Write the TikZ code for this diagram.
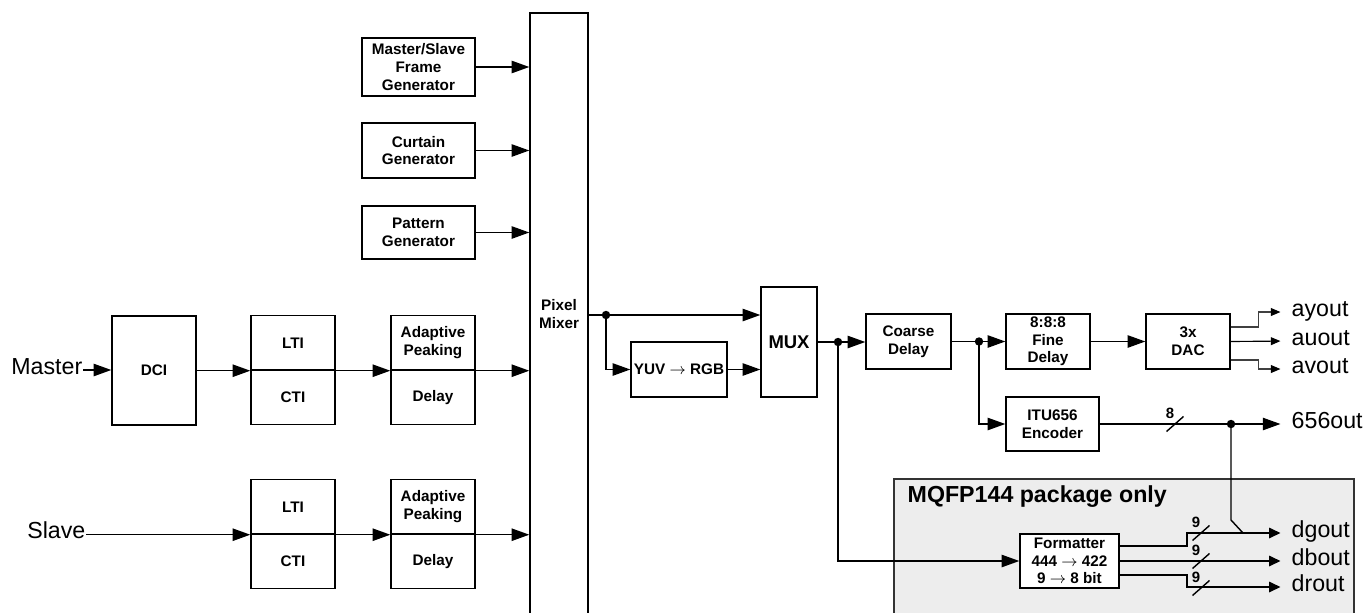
\documentclass[tikz,border=0pt]{standalone}
\usepackage{fontspec}
\setmainfont{Liberation Sans}
\usetikzlibrary{arrows.meta,calc}
\newcommand\busslash[4]{%
  \draw ({#1-8.5},{#2+7.5}) -- ({#1+8.5},{#2-7.5});
  \node[bus] (#4) at ({#1-5},{#2-11}) {#3};}
\begin{document}
\begin{tikzpicture}[x=0.02cm,y=-0.02cm,
  line width=0.8pt,
  box/.style={draw, fill=white, inner sep=0pt, align=center, font=\bfseries\fontsize{8.7}{10}\selectfont},
  wh/.style 2 args={minimum width={#1*0.02cm}, minimum height={#2*0.02cm}},
  arr/.style={-{Triangle[length=10pt,width=7pt]}},
  arrm/.style={-{Triangle[length=6.5pt,width=6pt]}},
  arrs/.style={-{Triangle[length=5.5pt,width=4.5pt,color=black]}},
  dot/.style={circle, fill, inner sep=0pt, minimum size=4.8pt},
  io/.style={inner sep=0pt, text height=1ex, text depth=0pt, font=\fontsize{13.2}{14}\selectfont},
  bus/.style={inner sep=0pt, font=\bfseries\fontsize{8.5}{9}\selectfont},
]
\useasboundingbox (0,0) rectangle (1365,612);

% package area
\draw[fill=black!7, draw=black!80] (894,479) rectangle (1354,625);
\node[anchor=west, inner sep=0pt, font=\bfseries\fontsize{13.2}{14}\selectfont] (pkgt) at (907,497) {MQFP144 package only};

% generators
\node[box, wh={113}{58}] (msf) at (418.5,67) {Master/Slave\\Frame\\Generator};
\node[box, wh={113}{55}] (cur) at (418.5,150.5) {Curtain\\Generator};
\node[box, wh={113}{53}] (pat) at (418.5,232.5) {Pattern\\Generator};

% pixel mixer
\node[box, wh={58}{602}] (pix) at (559,314) {Pixel\\Mixer};

% master path
\node[io, anchor=east] (master) at (83,370) {Master};
\node[box, wh={84}{109}] (dci) at (154,370.5) {DCI};
\node[box, wh={84}{54.5}] (lti1) at (293,342.75) {LTI};
\node[box, wh={84}{54.5}] (cti1) at (293,397.25) {CTI};
\node[box, wh={84}{54.5}] (apk1) at (433,342.75) {Adaptive\\Peaking};
\node[box, wh={84}{54.5}] (dly1) at (433,397.25) {Delay};

% slave path
\node[io, anchor=east] (slave) at (86,534) {Slave};
\node[box, wh={84}{54.5}] (lti2) at (293,506.75) {LTI};
\node[box, wh={84}{54.5}] (cti2) at (293,561.25) {CTI};
\node[box, wh={84}{54.5}] (apk2) at (433,506.75) {Adaptive\\Peaking};
\node[box, wh={84}{54.5}] (dly2) at (433,561.25) {Delay};

% right side
\node[box, wh={56}{110}, font=\bfseries\fontsize{10.5}{12}\selectfont] (mux) at (789,342) {MUX};
\node[box, wh={96}{55}] (yuv) at (679,369.5) {YUV $\rightarrow$ RGB};
\node[box, wh={85}{55}] (crs) at (908.5,341.5) {Coarse\\Delay};
\node[box, wh={84}{55}] (fin) at (1048,341.5) {8:8:8\\Fine\\Delay};
\node[box, wh={84}{55}] (dac) at (1188,341.5) {3x\\DAC};
\node[box, wh={93}{54}] (itu) at (1052.5,424) {ITU656\\Encoder};
\node[box, wh={99}{54}] (fmt) at (1069.5,561) {Formatter\\444 $\rightarrow$ 422\\9 $\rightarrow$ 8 bit};

% outputs
\node[io, anchor=west] (ayout) at (1291,312) {ayout};
\node[io, anchor=west] (auout) at (1291,341) {auout};
\node[io, anchor=west] (avout) at (1291,369) {avout};
\node[io, anchor=west] (o656) at (1291,424) {656out};
\node[io, anchor=west] (dgout) at (1291,533) {dgout};
\node[io, anchor=west] (dbout) at (1291,561) {dbout};
\node[io, anchor=west] (drout) at (1291,587) {drout};

% generator arrows
\draw[arr] (msf.east) -- (msf.east -| pix.west);
\draw[arr] (cur.east) -- (cur.east -| pix.west);
\draw[arr] (pat.east) -- (pat.east -| pix.west);

% master chain
\draw[arr] (master.east) -- (master.east -| dci.west);
\draw[arr] (dci.east |- lti1.south west) -- (lti1.south west);
\draw[arr] (lti1.south east) -- (apk1.south west);
\draw[arr] (apk1.south east) -- (apk1.south east -| pix.west);

% slave chain
\draw[arr] (slave.east |- lti2.south west) -- (lti2.south west);
\draw[arr] (lti2.south east) -- (apk2.south west);
\draw[arr] (apk2.south east) -- (apk2.south east -| pix.west);

% after mixer
\coordinate (j1) at (606,315);
\draw (j1 -| pix.east) -- (j1);
\draw[arr] (j1) -- (j1 -| mux.west);
\draw[arr] (j1) |- (yuv.west);
\draw[arr] (yuv.east) -- (yuv.east -| mux.west);
\node[dot] (d1) at (j1) {};

\coordinate (j2) at (838,342);
\draw (mux.east) -- (j2);
\draw[arr] (j2) -- (j2 -| crs.west);
\draw[arr] (j2) |- (fmt.west);
\node[dot] (d2) at (j2) {};

\coordinate (j3) at (979,341.5);
\draw (crs.east) -- (j3);
\draw[arr] (j3) -- (fin.west);
\draw[arr] (j3) |- (itu.west);
\node[dot] (d3) at (j3) {};

\draw[arr] (fin.east) -- (dac.west);

% DAC outputs
\begin{scope}[line width=0.65pt]
\draw[arrs, shorten >=6pt, black!75] (dac.east) ++(0,-14.5) -- ++(28,0) |- (ayout.west);
\draw[arrs, shorten >=6pt] (dac.east) -- (auout.west);
\draw[arrs, shorten >=6pt, black!75] (dac.east) ++(0,18.5) -- ++(28,0) |- (avout.west);
\end{scope}

% ITU656 output
\coordinate (j4) at (1231,424);
\draw (itu.east) -- (j4);
\draw[arr, shorten >=6pt] (j4) -- (o656.west);
\coordinate (k1) at (1231,520);
\coordinate (k2) at (1243,533);
\draw (j4) -- (k1) -- (k2);
\node[dot] (d4) at (j4) {};
\busslash{1175}{424}{8}{s8}

% formatter outputs
\draw[arrm, shorten >=6pt] (fmt.east) ++(0,-15) -- (1187,546) |- (dgout.west);
\draw[arrm, shorten >=6pt] (fmt.east) -- (dbout.west);
\draw[arrm, shorten >=6pt] (fmt.east) ++(0,14) -- (1187,575) |- (drout.west);
\busslash{1201}{533}{9}{s9a}
\busslash{1201}{561}{9}{s9b}
\busslash{1201}{588}{9}{s9c}
\end{tikzpicture}
\end{document}
